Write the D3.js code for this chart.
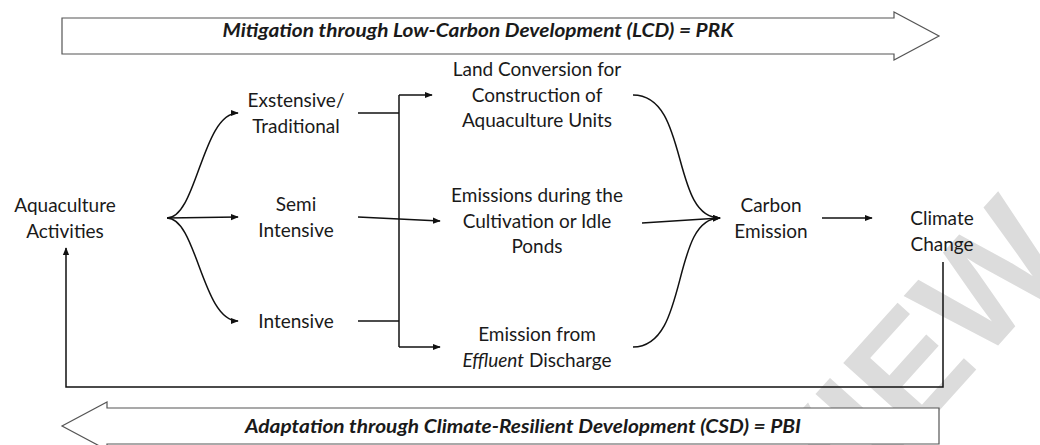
<!DOCTYPE html>
<html>
<head>
<title>aquaculture carbon flow</title>
<script src="https://d3js.org/d3.v7.min.js"></script>
<style>
body { margin: 0; background: #fff; }
svg { display: block; }
text { font-family: Lato, 'Open Sans', sans-serif; fill: #1a1a1a; }
</style>
</head>
<body>
<svg id="svg1" width="1040" height="445"></svg>
<script>
// labels of the diagram, one array per column
var sourceLabel = ["Aquaculture", "Activities"];
var systemLabels = [
	["Exstensive/", "Traditional"],
	["Semi", "Intensive"],
	["Intensive"]
];
var processLabels = [
	["Land Conversion for", "Construction of", "Aquaculture Units"],
	["Emissions during the", "Cultivation or Idle", "Ponds"],
	["Emission from", "_Effluent_ Discharge"]
];
var carbonLabel = ["Carbon", "Emission"];
var climateLabel = ["Climate", "Change"];
var bannerTop = "Mitigation through Low-Carbon Development (LCD) = PRK";
var bannerBottom = "Adaptation through Climate-Resilient Development (CSD) = PBI";
var watermark = "PREVIEW";

var svg = d3.select("#svg1");
var ink = "#111";

// column centres and row centres
var colX = d3.scaleOrdinal()
	.domain(["source", "system", "process", "carbon", "climate"])
	.range([65, 296, 537, 771, 942]);
var systemY = d3.scaleLinear().domain([0, 2]).range([113, 321]);
var processY = d3.scaleLinear().domain([0, 2]).range([95, 347]);
var midY = 218;

// watermark behind everything
svg.append("text")
	.text(watermark)
	.attr("transform", "translate(1075,260) rotate(-48)")
	.attr("text-anchor", "end")
	.style("font-family", "'Liberation Sans', sans-serif")
	.style("font-weight", "bold")
	.style("font-size", "150px")
	.style("fill", "#dcdcdc");

var defs = svg.append("defs");
defs.append("marker")
	.attr("id", "head")
	.attr("viewBox", "0 0 10 10")
	.attr("refX", 9)
	.attr("refY", 5)
	.attr("markerWidth", 8)
	.attr("markerHeight", 8)
	.attr("markerUnits", "userSpaceOnUse")
	.attr("orient", "auto")
	.append("path")
	.attr("d", "M0,1 L10,5 L0,9 z")
	.style("fill", ink);

// multi-line centred label, _word_ = italic
function label(lines, cx, cy) {
	var lh = 25.5, cap = 13.5;
	var first = cy - (lines.length - 1) * lh / 2 + cap / 2;
	lines.forEach(function (line, i) {
		var t = svg.append("text")
			.attr("x", cx)
			.attr("y", first + i * lh)
			.attr("text-anchor", "middle")
			.style("font-size", "19px");
		line.split(/(_[^_]+_)/).forEach(function (part) {
			if (!part) return;
			var it = part[0] == "_";
			t.append("tspan")
				.text(it ? part.slice(1, -1) : part)
				.style("font-style", it ? "italic" : "normal");
		});
	});
}

function arrow(d, head) {
	svg.append("path")
		.attr("d", d)
		.style("fill", "none")
		.style("stroke", ink)
		.style("stroke-width", 1.5)
		.attr("marker-end", head ? "url(#head)" : null);
}

// big banner arrows
function banner(text, x0, x1, cy, dir, textLen, dy) {
	var hs = 18, hh = 24, hl = 45;
	var pts;
	if (dir > 0) {
		var b = x1 - hl;
		pts = [[x0, cy - hs], [b, cy - hs], [b, cy - hh], [x1, cy], [b, cy + hh], [b, cy + hs], [x0, cy + hs]];
	} else {
		var b2 = x0 + hl;
		pts = [[x1, cy - hs], [b2, cy - hs], [b2, cy - hh], [x0, cy], [b2, cy + hh], [b2, cy + hs], [x1, cy + hs]];
	}
	svg.append("polygon")
		.attr("points", pts.map(function (p) { return p.join(","); }).join(" "))
		.style("fill", "#fff")
		.style("stroke", "#555")
		.style("stroke-width", 1.2);
	var sx = dir > 0 ? (x0 + x1 - hl) / 2 : (x0 + hl + x1) / 2;
	svg.append("text")
		.text(text)
		.attr("x", sx)
		.attr("y", cy + dy)
		.attr("text-anchor", "middle")
		.attr("textLength", textLen)
		.attr("lengthAdjust", "spacingAndGlyphs")
		.style("font-size", "18px")
		.style("font-weight", "bold")
		.style("font-style", "italic");
}

banner(bannerTop, 62, 939, 36, 1, 511, 1);
banner(bannerBottom, 62, 939, 426, -1, 556, 7);

// labels
label(sourceLabel, colX("source"), midY);
systemLabels.forEach(function (l, i) { label(l, colX("system"), systemY(i)); });
processLabels.forEach(function (l, i) { label(l, colX("process"), processY(i)); });
label(carbonLabel, colX("carbon"), midY);
label(climateLabel, colX("climate"), midY + 13);

// fork from aquaculture activities to the three systems
var fx = colX("source") + 102, tx = colX("system") - 58;
systemLabels.forEach(function (l, i) {
	var y = systemY(i);
	if (i == 1) arrow("M" + fx + "," + midY + " L" + tx + "," + y, true);
	else arrow("M" + fx + "," + midY + " C" + (fx + 30) + "," + midY + " " + (fx + 35) + "," + y + " " + tx + "," + y, true);
});

// systems into the bracket
var sx = colX("system") + 62, bx = 399;
arrow("M" + sx + "," + systemY(0) + " L" + bx + "," + systemY(0), false);
arrow("M" + sx + "," + systemY(2) + " L" + bx + "," + systemY(2), false);
arrow("M" + bx + "," + processY(0) + " L" + bx + "," + processY(2), false);
arrow("M" + bx + "," + processY(0) + " L432," + processY(0), true);
arrow("M" + bx + "," + processY(2) + " L440," + processY(2), true);
arrow("M" + sx + "," + systemY(1) + " L440," + processY(1), true);

// processes converge on carbon emission
var px = colX("process") + 96, cx = colX("carbon") - 51;
arrow("M" + px + "," + processY(0) + " C" + (px + 57) + "," + processY(0) + " " + (px + 37) + "," + midY + " " + cx + "," + midY, true);
arrow("M" + (px + 9) + "," + (processY(1) + 2) + " L" + cx + "," + midY, true);
arrow("M" + px + "," + processY(2) + " C" + (px + 57) + "," + processY(2) + " " + (px + 37) + "," + midY + " " + cx + "," + midY, true);

// carbon emission -> climate change
arrow("M" + (colX("carbon") + 51) + "," + midY + " L" + (colX("climate") - 70) + "," + midY, true);

// feedback loop back to aquaculture activities
var loopY = 387;
arrow("M" + (colX("climate") + 1) + ",262 L" + (colX("climate") + 1) + "," + loopY +
	" L" + (colX("source") + 1) + "," + loopY + " L" + (colX("source") + 1) + ",248", true);
</script>
</body>
</html>
